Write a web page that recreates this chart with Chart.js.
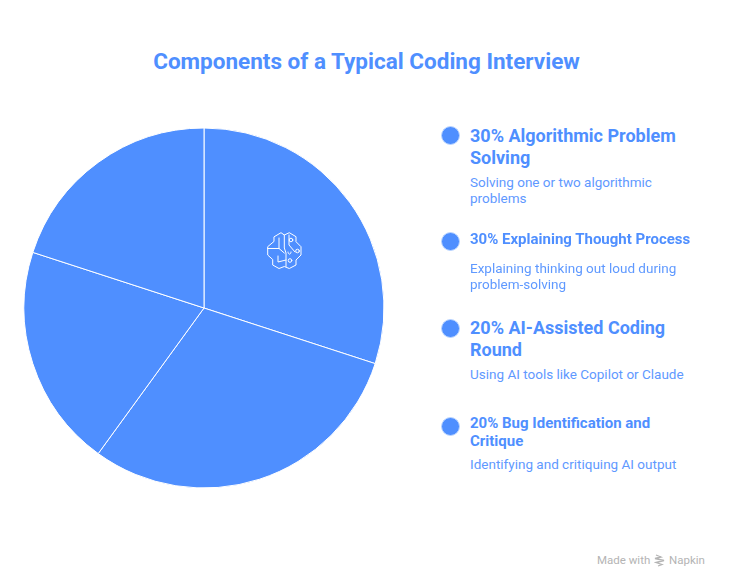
<!DOCTYPE html>
<html>
<head>
<meta charset="utf-8">
<script src="https://cdn.jsdelivr.net/npm/chart.js@4"></script>
<style>
  html, body { margin: 0; padding: 0; background: #fff; }
  body { width: 730px; height: 588px; position: relative; overflow: hidden; font-family: Roboto, sans-serif; }
  #title { position: absolute; left: 0; width: 733px; top: 46px; text-align: center; font-size: 22.5px; line-height: 30px; font-weight: 700; color: #4f8fff; }
  #wrap { position: absolute; left: 22px; top: 126px; width: 364px; height: 364px; }
  #icon { position: absolute; left: 267px; top: 231px; width: 38px; height: 38px; overflow: visible; }
  .dot { position: absolute; left: 441px; width: 17px; height: 17px; border-radius: 50%; background: #4f8fff; border: 1px solid #bcd6ff; }
  .head { position: absolute; left: 470px; width: 225px; font-weight: 700; color: #4f8fff; }
  .desc { position: absolute; left: 470px; width: 215px; font-size: 13.5px; line-height: 16px; color: #5f99ff; }
  #brand { position: absolute; left: 597px; top: 553px; font-size: 11.5px; line-height: 15px; color: #b4b4b4; }
  #brand svg { vertical-align: -3px; margin: 0 1px; }
</style>
</head>
<body>
<div id="title"></div>
<div id="wrap"><canvas id="pie" width="364" height="364"></canvas></div>
<svg id="icon" viewBox="0 0 38 38" fill="none" stroke="#fff" stroke-width="1" stroke-linejoin="round" stroke-linecap="round">
  <path d="M7.3 5.7 L14 1.7 L17.3 4 L22.3 1.7 L29 5.7 V10.7 L34 15.7 V24 L29 29 V34 L22.3 37.5 L17.3 35.5 L12 37.5 L5.7 34 V28.5 L.7 24 V15.7 L6.7 10.7 Z"/>
  <path d="M17.3 4 V17 L19 22 V35.5 M12 7 V17.5 L17.3 22 M.7 17.5 H12 M19 29 L11 31 V25 M22 4 V14 L28 21 M24 21 C24 24 21 24 21 21"/>
  <circle cx="24" cy="9" r="1.8"/><circle cx="30.5" cy="20" r="1.8"/><circle cx="23" cy="29.5" r="1.8"/>
</svg>
<div id="legend"></div>
<div id="brand">Made with <svg width="11" height="13" viewBox="0 0 11 13" fill="none" stroke="#b4b4b4" stroke-width="1.3"><path d="M2 1 L7 3 L1 4.5 L10 6.5 L2 8.5 L8 10.5 L4 12"/></svg> Napkin</div>
<script>
const titleText = 'Components of a Typical Coding Interview';
const categories = ['Algorithmic Problem Solving', 'Explaining Thought Process', 'AI-Assisted Coding Round', 'Bug Identification and Critique'];
const shares = [30, 30, 20, 20];
const descriptions = [
    'Solving one or two algorithmic problems',
    'Explaining thinking out loud during problem-solving',
    'Using AI tools like Copilot or Claude',
    'Identifying and critiquing AI output'
];

// legend layout per row: dot top, heading top, heading size, heading line height, description top
const legendRows = [
    { dot: 126, head: 125, size: 18, line: 22, desc: 174 },
    { dot: 232, head: 230, size: 15, line: 18, desc: 260 },
    { dot: 319, head: 317, size: 18, line: 22, desc: 366 },
    { dot: 417, head: 414, size: 15, line: 18, desc: 456 }
];

document.getElementById('title').textContent = titleText;

const legend = document.getElementById('legend');
categories.forEach((name, i) => {
    const row = legendRows[i];
    legend.insertAdjacentHTML('beforeend',
        `<div class="dot" style="top:${row.dot}px"></div>` +
        `<div class="head" style="top:${row.head}px;font-size:${row.size}px;line-height:${row.line}px">${shares[i]}% ${name}</div>` +
        `<div class="desc" style="top:${row.desc}px">${descriptions[i]}</div>`);
});

new Chart(document.getElementById('pie'), {
    type: 'pie',
    data: {
        labels: categories,
        datasets: [{
            data: shares,
            backgroundColor: '#4f8fff',
            borderColor: '#ffffff',
            borderWidth: 1
        }]
    },
    options: {
        responsive: false,
        animation: false,
        layout: { padding: 1.5 },
        plugins: { legend: { display: false }, tooltip: { enabled: false } }
    }
});
</script>
</body>
</html>
